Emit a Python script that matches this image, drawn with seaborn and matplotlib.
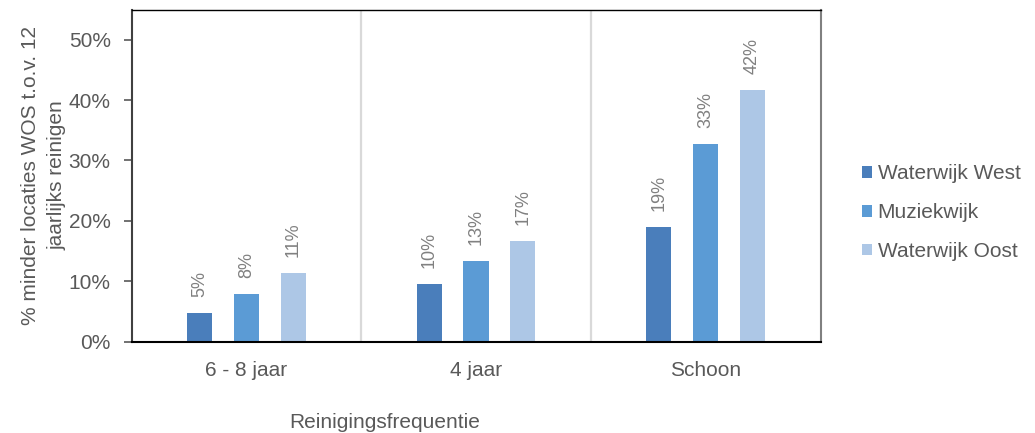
import matplotlib
matplotlib.use("Agg")
import matplotlib.pyplot as plt
import pandas as pd
import seaborn as sns

# Data (percent)
categories = ["6 - 8 jaar", "4 jaar", "Schoon"]
wijken = ["Waterwijk West", "Muziekwijk", "Waterwijk Oost"]
waterwijk_west = [4.8, 9.6, 19.0]
muziekwijk = [7.8, 13.4, 32.8]
waterwijk_oost = [11.3, 16.7, 41.7]
yticks = [0, 10, 20, 30, 40, 50]

colors = ["#4a7ebb", "#5b9bd5", "#adc7e6"]
text_grey = "#595959"

# long-form table for seaborn
rows = []
for name, vals in zip(wijken, [waterwijk_west, muziekwijk, waterwijk_oost]):
    for cat, v in zip(categories, vals):
        rows.append({"cat": cat, "wijk": name, "val": v})
df = pd.DataFrame(rows)

sns.set_theme(style="white")
plt.rcParams["font.family"] = ["Liberation Sans", "DejaVu Sans"]

fig = plt.figure(figsize=(10.35, 4.33), dpi=100)
ax = fig.add_axes([131.5 / 1035, 91.5 / 433, 689 / 1035, 332 / 433])

sns.barplot(data=df, x="cat", y="val", hue="wijk", order=categories,
            hue_order=wijken, palette=colors, width=0.613, gap=0.466,
            errorbar=None, saturation=1, linewidth=0, ax=ax)

# value labels above the bars
for cont in ax.containers:
    for bar in cont:
        h = bar.get_height()
        ax.annotate(f"{h:.0f}%", (bar.get_x() + bar.get_width() / 2, h),
                    xytext=(0, 11.5), textcoords="offset points",
                    rotation=90, ha="center", va="bottom",
                    fontsize=13, color="#808080")

# separators between groups
for xpos in [0.5, 1.5]:
    ax.axvline(xpos, color="#d9d9d9", lw=1.6, zorder=0)

ax.set_ylim(0, 55)
ax.set_yticks(yticks)
ax.set_yticklabels([f"{t}%" for t in yticks])
ax.set_xlim(-0.5, 2.5)

ax.tick_params(axis="y", left=True, length=6, width=1.2, color=text_grey,
               labelsize=15, labelcolor=text_grey, pad=9)
ax.tick_params(axis="x", bottom=False, length=0, labelsize=15,
               labelcolor=text_grey, pad=14)

ax.set_xlabel("Reinigingsfrequentie", fontsize=15, color=text_grey)
ax.xaxis.set_label_coords((385 - 131.5) / 689, -0.215)
ax.set_ylabel("% minder locaties WOS t.o.v. 12\njaarlijks reinigen",
              fontsize=15, color=text_grey, linespacing=1.5)
ax.yaxis.set_label_coords((67 - 131.5) / 689, 0.5)

for side, col, lw in [("left", "#404040", 1.5), ("bottom", "black", 1.5),
                      ("top", "black", 1.0), ("right", "#808080", 1.5)]:
    ax.spines[side].set_visible(True)
    ax.spines[side].set_color(col)
    ax.spines[side].set_linewidth(lw)

handles, labels = ax.get_legend_handles_labels()
ax.legend(handles, labels, loc="center left",
          bbox_to_anchor=(862 / 1035, 0.509), bbox_transform=fig.transFigure,
          frameon=False, fontsize=15, labelcolor=text_grey,
          handlelength=0.5, handleheight=0.5, handletextpad=0.25,
          labelspacing=0.95, borderpad=0, borderaxespad=0)

fig.savefig("out.png", dpi=100)
